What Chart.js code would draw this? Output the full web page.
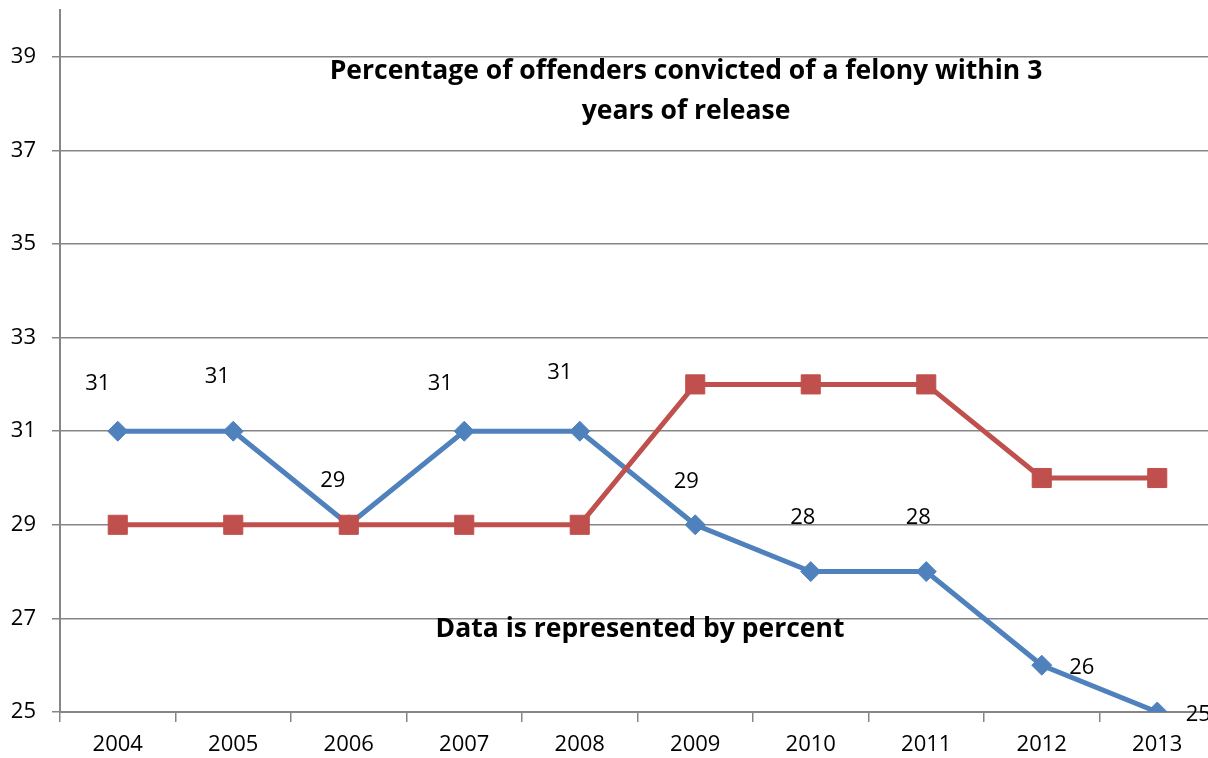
<!DOCTYPE html>
<html>
<head>
<meta charset="utf-8">
<script src="https://cdn.jsdelivr.net/npm/chart.js@4.4.0/dist/chart.umd.min.js"></script>
<style>
  html, body { margin: 0; padding: 0; background: #fff; overflow: hidden; }
  #wrap { width: 1208px; height: 758px; overflow: hidden; }
</style>
</head>
<body>
<div id="wrap">
  <canvas id="felonyChart" width="1216" height="758"></canvas>
</div>
<script>
const years = ['2004','2005','2006','2007','2008','2009','2010','2011','2012','2013']
const seriesA = [31,31,29,31,31,29,28,28,26,25]
const seriesB = [29,29,29,29,29,32,32,32,30,30]
const yTicks = [25,27,29,31,33,35,37,39]

// where each value label sits relative to its point (px)
const labelOffsets = [[-20,-47],[-16,-54],[-16,-44],[-24,-47],[-20,-58],[-9,-43],[-8,-54],[-8,-54],[40,3],[41,3]]

const gridGray = '#868686'
const font = 'Open Sans'

const valueLabels = {
  id: 'valueLabels',
  afterDatasetsDraw(chart) {
    const ctx = chart.ctx
    const meta = chart.getDatasetMeta(1)
    ctx.save()
    ctx.font = '22px "' + font + '"'
    ctx.fillStyle = '#000'
    ctx.textAlign = 'center'
    ctx.textBaseline = 'middle'
    meta.data.forEach((pt, i) => {
      const off = labelOffsets[i]
      ctx.fillText(String(seriesA[i]), pt.x + off[0], pt.y + off[1])
    })
    ctx.restore()
  }
}

const plotTexts = {
  id: 'plotTexts',
  afterDraw(chart) {
    const ctx = chart.ctx
    ctx.save()
    ctx.font = 'bold 26.5px "' + font + '"'
    ctx.fillStyle = '#000'
    ctx.textAlign = 'center'
    ctx.textBaseline = 'middle'
    ctx.fillText('Percentage of offenders convicted of a felony within 3', 686, 71)
    ctx.fillText('years of release', 686, 111)
    ctx.fillText('Data is represented by percent', 640, 629)
    ctx.restore()
  }
}

var ctx = document.getElementById('felonyChart').getContext('2d')
var felonyChart = new Chart(ctx, {
  type: 'line',
  data: {
    labels: years,
    datasets: [
      {
        label: 'Series 2',
        data: seriesB,
        borderColor: '#C0504D',
        backgroundColor: '#C0504D',
        borderWidth: 5,
        tension: 0,
        fill: false,
        pointStyle: 'rect',
        pointRadius: 13.5,
        pointBorderWidth: 1,
        pointBorderColor: '#C0504D'
      },
      {
        label: 'Series 1',
        data: seriesA,
        borderColor: '#4F81BD',
        backgroundColor: '#4F81BD',
        borderWidth: 5,
        tension: 0,
        fill: false,
        pointStyle: 'rectRot',
        pointRadius: 10,
        pointBorderWidth: 1,
        pointBorderColor: '#4F81BD'
      }
    ]
  },
  options: {
    responsive: false,
    animation: false,
    layout: { autoPadding: false, padding: { top: 10, right: 1, left: 0, bottom: 0 } },
    plugins: {
      legend: { display: false },
      title: { display: false },
      tooltip: { enabled: false }
    },
    scales: {
      x: {
        offset: true,
        afterFit: (scale) => {
          scale.height = 46
          scale.paddingLeft = 0
          scale.paddingRight = 0
        },
        grid: {
          offset: true,
          drawOnChartArea: false,
          drawTicks: true,
          tickLength: 10,
          color: gridGray,
          lineWidth: 1.5
        },
        border: { color: gridGray, width: 2 },
        ticks: {
          color: '#000',
          padding: 10,
          maxRotation: 0,
          font: { family: font, size: 22 }
        }
      },
      y: {
        min: 25,
        max: 40,
        afterFit: (scale) => {
          scale.width = 60
          scale.paddingTop = 0
          scale.paddingBottom = 0
        },
        afterBuildTicks: (scale) => { scale.ticks = yTicks.map(v => ({ value: v })) },
        grid: {
          color: gridGray,
          lineWidth: 1.5,
          tickLength: 8
        },
        border: { color: gridGray, width: 2 },
        ticks: {
          color: '#000',
          padding: 16,
          font: { family: font, size: 22 }
        }
      }
    }
  },
  plugins: [valueLabels, plotTexts]
})
</script>
</body>
</html>
